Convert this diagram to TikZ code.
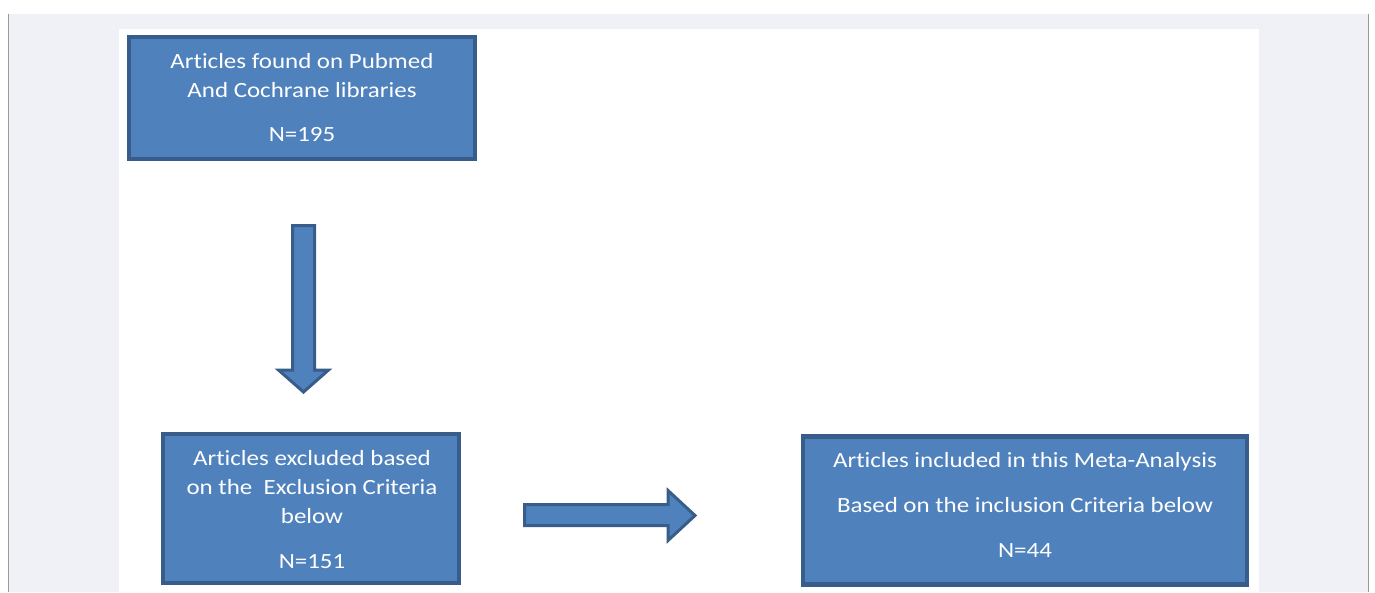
\documentclass[tikz,border=0pt]{standalone}
\usepackage{fontspec}
\setmainfont{Carlito}[FakeStretch=1.15, Ligatures={NoCommon}]
\definecolor{boxfill}{HTML}{4F81BD}
\definecolor{boxline}{HTML}{385D8A}
\definecolor{pagebg}{HTML}{F0F1F6}
\definecolor{edgegray}{HTML}{9A9A9A}
\tikzset{
  flowbox/.style={draw=boxline, fill=boxfill, line width=4.5pt, rectangle, inner sep=0pt},
  boxtext/.style={text=white, align=center, font=\fontsize{21.7}{29}\selectfont, inner sep=0pt},
  blockarrow/.style={draw=boxline, fill=boxfill, line width=3pt, line join=miter},
}
\begin{document}
\begin{tikzpicture}[x=1pt,y=-1pt]
\useasboundingbox (0,0) rectangle (1375,592);
\fill[white] (0,0) rectangle (1375,592);
\fill[pagebg] (8,14) rectangle (1369,592);
\draw[edgegray, line width=1.2pt] (8.5,14) -- (8.5,592);
\draw[edgegray, line width=1.2pt] (1368.5,14) -- (1368.5,592);
\fill[white] (119,29) rectangle (1259,592);
% boxes
\node[flowbox, minimum width=346pt, minimum height=122pt] (found) at (302,98) {};
\node[flowbox, minimum width=296pt, minimum height=149pt] (excl) at (311,508.5) {};
\node[flowbox, minimum width=444pt, minimum height=148pt] (incl) at (1025,510.5) {};
% texts
\node[boxtext] (foundtxt) at (302,97.5) {Articles found on Pubmed\\And Cochrane libraries\\[15pt]N=195};
\node[boxtext] (excltxt) at (312,509.5) {Articles excluded based\\on the\ \ Exclusion Criteria\\below\\[16pt]N=151};
\node[boxtext, font=\fontsize{21.7}{45}\selectfont] (incltxt) at (1025,505) {Articles included in this Meta-Analysis\\Based on the inclusion Criteria below\\N=44};
% block arrows
\draw[blockarrow] (292.5,225.5) -- (314.5,225.5) -- (314.5,370) -- (328.5,370) -- (303.5,392) -- (278.5,370) -- (292.5,370) -- cycle;
\draw[blockarrow] (524.5,504.5) -- (668,504.5) -- (668,490.5) -- (695,515.5) -- (668,540.5) -- (668,525.5) -- (524.5,525.5) -- cycle;
\end{tikzpicture}
\end{document}
